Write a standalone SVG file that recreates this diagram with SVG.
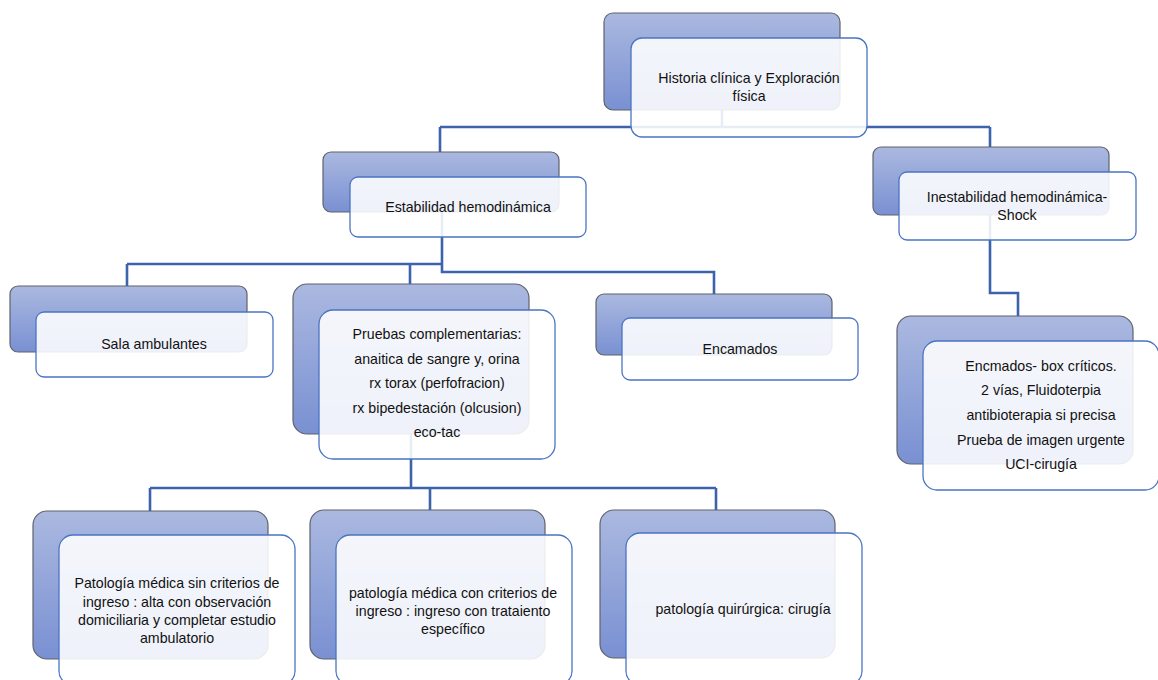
<svg xmlns="http://www.w3.org/2000/svg" width="1158" height="680" viewBox="0 0 1158 680">
<defs>
<linearGradient id="g" x1="0" y1="0" x2="0" y2="1">
<stop offset="0" stop-color="#abb9e0"/>
<stop offset="1" stop-color="#7990d2"/>
</linearGradient>
<style>
.b{fill:url(#g);stroke:#5f636b;stroke-width:1.2}
.f{fill:#ffffff;fill-opacity:0.88;stroke:#4a74c4;stroke-width:1.3}
.c{fill:none;stroke:#3d63ad;stroke-width:2.6}
text{font-family:"Liberation Sans",Arial,sans-serif;font-size:14.2px;fill:#111;text-anchor:middle}
</style>
</defs>
<rect width="1158" height="680" fill="#fff"/>
<g id="connectors">
<path class="c" d="M722 110V127M440 127H990M440 127V152M990 127V147"/>
<path class="c" d="M442 212V272H714V294M127 264H442M127 264V286M410 264V284"/>
<path class="c" d="M990 215V293H1018V316"/>
<path class="c" d="M411 434V488M150 488H716M150 488V511M430 488V510M716 488V510"/>
</g>
<g id="n-historia">
<rect class="b" x="604" y="13" width="236" height="97" rx="9"/>
<rect class="f" x="631" y="38" width="236" height="99" rx="11"/>
<text x="749" y="83">Historia clínica y Exploración</text>
<text x="749" y="101">física</text>
</g>
<g id="n-estabilidad">
<rect class="b" x="323" y="152" width="236" height="60" rx="8"/>
<rect class="f" x="350" y="177" width="236" height="60" rx="8"/>
<text x="468" y="212">Estabilidad hemodinámica</text>
</g>
<g id="n-inestabilidad">
<rect class="b" x="873" y="147" width="236" height="68" rx="8"/>
<rect class="f" x="899" y="172" width="237" height="68" rx="8"/>
<text x="1017" y="202">Inestabilidad hemodinámica-</text>
<text x="1017" y="220">Shock</text>
</g>
<g id="n-sala">
<rect class="b" x="10" y="286" width="237" height="66" rx="8"/>
<rect class="f" x="36" y="312" width="237" height="65" rx="8"/>
<text x="154" y="349">Sala ambulantes</text>
</g>
<g id="n-pruebas">
<rect class="b" x="293" y="284" width="236" height="150" rx="14"/>
<rect class="f" x="319" y="310" width="236" height="149" rx="14"/>
<text x="437" y="339">Pruebas complementarias:</text>
<text x="437" y="364">anaitica de sangre y, orina</text>
<text x="437" y="388">rx torax (perfofracion)</text>
<text x="437" y="413">rx bipedestación (olcusion)</text>
<text x="437" y="437">eco-tac</text>
</g>
<g id="n-encamados">
<rect class="b" x="596" y="294" width="236" height="61" rx="8"/>
<rect class="f" x="622" y="318" width="236" height="62" rx="8"/>
<text x="740" y="354">Encamados</text>
</g>
<g id="n-shock">
<rect class="b" x="897" y="316" width="236" height="148" rx="14"/>
<rect class="f" x="923" y="341" width="236" height="149" rx="14"/>
<text x="1041" y="371">Encmados- box críticos.</text>
<text x="1041" y="395">2 vías, Fluidoterpia</text>
<text x="1041" y="420">antibioterapia si precisa</text>
<text x="1041" y="445">Prueba de imagen urgente</text>
<text x="1041" y="469">UCI-cirugía</text>
</g>
<g id="n-sin">
<rect class="b" x="33" y="511" width="235" height="148" rx="14"/>
<rect class="f" x="59" y="535" width="236" height="150" rx="14"/>
<text x="177" y="588">Patología médica sin criterios de</text>
<text x="177" y="607">ingreso : alta con observación</text>
<text x="177" y="625">domiciliaria y completar estudio</text>
<text x="177" y="643">ambulatorio</text>
</g>
<g id="n-con">
<rect class="b" x="310" y="510" width="235" height="149" rx="14"/>
<rect class="f" x="336" y="535" width="236" height="150" rx="14"/>
<text x="453" y="598">patología médica con criterios de</text>
<text x="453" y="616">ingreso : ingreso con trataiento</text>
<text x="453" y="634">específico</text>
</g>
<g id="n-quir">
<rect class="b" x="600" y="510" width="235" height="148" rx="14"/>
<rect class="f" x="626" y="533" width="236" height="152" rx="14"/>
<text x="743" y="614">patología quirúrgica: cirugía</text>
</g>
</svg>
